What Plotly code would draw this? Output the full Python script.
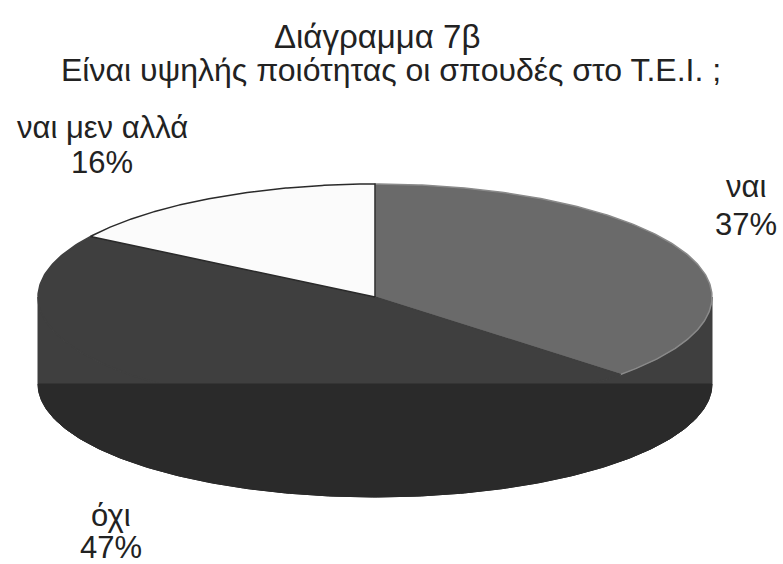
import numpy as np
import plotly.graph_objects as go

# ---- data ----
labels = ["ναι", "όχι", "ναι μεν αλλά"]
values = [37, 47, 16]
top_colors = ["#6a6a6a", "#3f3f3f", "#fbfbfb"]
edge_colors = ["#8a8a8a", "#3f3f3f", "#2a2a2a"]
side_color = "#3f3f3f"
base_color = "#2a2a2a"
title_lines = ["Διάγραμμα 7β", "Είναι υψηλής ποιότητας οι σπουδές στο Τ.Ε.Ι. ;"]

# ---- geometry (pixel space) ----
W, H = 783, 564
cx, cy, a, b, depth = 375, 297, 337, 113, 87
FONT = "Liberation Sans, Arial, sans-serif"

def pt(t, dy=0.0):
    return cx + a * np.sin(t), cy - b * np.cos(t) + dy

total = float(sum(values))
cum = np.concatenate([[0], np.cumsum(values)]) / total * 2 * np.pi

fig = go.Figure()

# side wall (front half)
ts = np.linspace(np.pi / 2, 3 * np.pi / 2, 240)
xs_t, ys_t = pt(ts)
xs_b, ys_b = pt(ts[::-1], depth)
fig.add_trace(go.Scatter(x=np.concatenate([xs_t, xs_b, [xs_t[0]]]),
                         y=np.concatenate([ys_t, ys_b, [ys_t[0]]]),
                         mode="lines", fill="toself", fillcolor=side_color,
                         line=dict(color=side_color, width=1),
                         hoverinfo="skip", showlegend=False))

# top faces
for i in range(len(values)):
    ts = np.linspace(cum[i], cum[i + 1], 200)
    xs, ys = pt(ts)
    xs = np.concatenate([[cx], xs, [cx]])
    ys = np.concatenate([[cy], ys, [cy]])
    fig.add_trace(go.Scatter(x=xs, y=ys, mode="lines", fill="toself",
                             fillcolor=top_colors[i],
                             line=dict(color=edge_colors[i], width=1.5),
                             hoverinfo="skip", showlegend=False))

# flat lower half of the base ellipse
ts = np.linspace(np.pi / 2, 3 * np.pi / 2, 240)
xs, ys = pt(ts, depth)
fig.add_trace(go.Scatter(x=np.concatenate([xs, [xs[0]]]),
                         y=np.concatenate([ys, [ys[0]]]),
                         mode="lines", fill="toself", fillcolor=base_color,
                         line=dict(color=base_color, width=1),
                         hoverinfo="skip", showlegend=False))

# labels
label_pos = [(746, 186, 224), (111, 515, 547), (102, 127, 162)]
anns = []
for i, (lx, ly1, ly2) in enumerate(label_pos):
    pct = f"{round(values[i] / total * 100)}%"
    anns.append(dict(x=lx, y=ly1, text=labels[i], showarrow=False,
                     xref="x", yref="y", font=dict(size=31, color="#222", family=FONT)))
    anns.append(dict(x=lx, y=ly2, text=pct, showarrow=False,
                     xref="x", yref="y", font=dict(size=31, color="#222", family=FONT)))
anns.append(dict(x=377, y=36, text=title_lines[0], showarrow=False, xref="x", yref="y",
                 font=dict(size=33, color="#222", family=FONT)))
anns.append(dict(x=391, y=70, text=title_lines[1], showarrow=False, xref="x", yref="y",
                 font=dict(size=32, color="#222", family=FONT)))

fig.update_layout(
    width=W, height=H,
    margin=dict(l=0, r=0, t=0, b=0),
    paper_bgcolor="white", plot_bgcolor="white",
    xaxis=dict(range=[0, W], visible=False, fixedrange=True),
    yaxis=dict(range=[H, 0], visible=False, fixedrange=True),
    annotations=anns,
    showlegend=False,
)

fig.write_html("out.html", config={"displayModeBar": False},
               post_script="document.body.style.margin='0';document.body.style.overflow='hidden';")
